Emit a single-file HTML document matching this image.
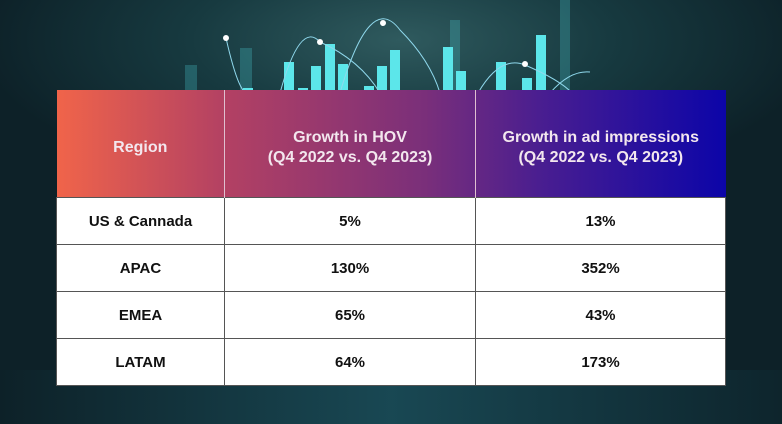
<!DOCTYPE html>
<html><head><style>
body{margin:0;width:782px;height:424px;overflow:hidden;font-family:"Liberation Sans",sans-serif;}
#bg{position:absolute;left:0;top:0;width:782px;height:424px;background:radial-gradient(ellipse 420px 160px at 400px 40px,#2f5a5e 0%,#173a40 50%,#0d2128 100%);}
#bot{position:absolute;left:0;top:370px;width:782px;height:54px;background:linear-gradient(90deg,rgba(12,30,36,0),rgba(26,76,88,0.9) 50%,rgba(15,45,54,0.3));}
table{position:absolute;left:56px;top:90px;width:670px;border-collapse:collapse;font-weight:bold;}
th{height:107px;color:#f3e7ee;font-size:16px;line-height:20px;padding:10px 0 0;box-sizing:border-box;border-right:1px solid #e0c0d0;}
td{height:44px;background:#fff;color:#111;font-size:15px;text-align:center;border:1px solid #555;padding:2px 0 0;}
</style></head><body>
<div id="bg"></div><div id="bot"></div>
<svg style="position:absolute;left:0;top:0" width="782" height="95">
<g fill="#4fd8e0" opacity="0.25"><rect x="240" y="48" width="12" height="45"/><rect x="185" y="65" width="12" height="28"/><rect x="450" y="20" width="10" height="73"/><rect x="560" y="0" width="10" height="93"/></g>
<g fill="#5ce6ea"><rect x="243" y="88" width="10" height="5"/><rect x="284" y="62" width="10" height="31"/><rect x="298" y="88" width="10" height="5"/><rect x="311" y="66" width="10" height="27"/><rect x="325" y="44" width="10" height="49"/><rect x="338" y="64" width="10" height="29"/><rect x="364" y="86" width="10" height="7"/><rect x="377" y="66" width="10" height="27"/><rect x="390" y="50" width="10" height="43"/><rect x="443" y="47" width="10" height="46"/><rect x="456" y="71" width="10" height="22"/><rect x="496" y="62" width="10" height="31"/><rect x="522" y="78" width="10" height="15"/><rect x="536" y="35" width="10" height="58"/></g>
<g fill="none" stroke="#8fd8ec" stroke-width="1"><path d="M226 38 Q240 100 250 93 M280 93 Q300 20 320 42 Q360 60 380 93 M340 93 Q370 -10 400 30 Q430 60 440 93 M478 93 Q500 55 525 65 Q560 80 572 93 M550 93 Q570 70 590 72"/></g>
<g fill="#fff"><circle cx="226" cy="38" r="3"/><circle cx="320" cy="42" r="3"/><circle cx="383" cy="23" r="3"/><circle cx="525" cy="64" r="3"/></g>
</svg>
<table>
<tr style="background:linear-gradient(90deg,#f0644a 0%,#b34163 25%,#7a2f7a 55%,#4a1e90 72%,#0c05a8 100%)">
<th style="width:168px">Region</th><th style="width:251px">Growth in HOV<br>(Q4 2022 vs. Q4 2023)</th><th style="border-right:none">Growth in ad impressions<br>(Q4 2022 vs. Q4 2023)</th></tr>
<tr><td>US &amp; Cannada</td><td>5%</td><td>13%</td></tr>
<tr><td>APAC</td><td>130%</td><td>352%</td></tr>
<tr><td>EMEA</td><td>65%</td><td>43%</td></tr>
<tr><td>LATAM</td><td>64%</td><td>173%</td></tr>
</table>
</body></html>
